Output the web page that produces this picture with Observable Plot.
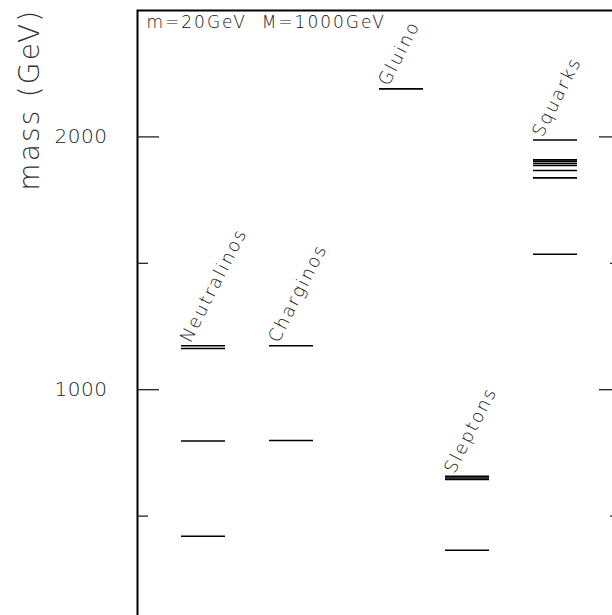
<!DOCTYPE html>
<html>
<head>
<meta charset="utf-8">
<script src="https://cdn.jsdelivr.net/npm/d3@7"></script>
<script src="https://cdn.jsdelivr.net/npm/@observablehq/plot@0.6"></script>
<style>
  html, body { margin: 0; padding: 0; overflow: hidden; background: white; }
  svg.plot, svg { max-width: none !important; }
</style>
</head>
<body>
<div id="chart"></div>
<script>
// ---- data (GeV) ----
const categories = ["Neutralinos", "Charginos", "Gluino", "Sleptons", "Squarks"];
const neutralinos = [420, 797, 1163, 1174];
const charginos = [799, 1174];
const gluino = [2190];
const sleptons = [365, 645, 651, 657];
const squarks = [1536, 1838, 1867, 1887, 1895, 1903, 1909, 1988];
const majorTicks = [1000, 2000];
const minorTicks = [500, 1500];
const yLabel = "mass (GeV)";
const note = "m=20GeV  M=1000GeV";

// ---- layout: column start on the x axis (0..11) ----
const columnStart = {Neutralinos: 1, Charginos: 3, Gluino: 5.5, Sleptons: 7, Squarks: 9};
const columnWidth = 1;

const series = [neutralinos, charginos, gluino, sleptons, squarks];
const levels = categories.flatMap((c, i) => series[i].map(m => ({cat: c, mass: m})));
const labels = categories.map((c, i) => ({cat: c, top: d3.max(series[i])}));

const W = 660, H = 660;
const plot = Plot.plot({
  width: W,
  height: H,
  marginLeft: 137,
  marginRight: 39,
  marginTop: 10,
  marginBottom: 18,
  x: {domain: [0, 11], axis: null},
  y: {domain: [0, 2500], axis: null},
  style: {fontFamily: "'DejaVu Sans', sans-serif", fontWeight: 300, color: "#111", background: "white", maxWidth: "none"},
  marks: [
    Plot.frame({stroke: "black", strokeWidth: 2}),
    // ticks (inward, both sides)
    Plot.ruleY(majorTicks, {y: d => d, x1: 0, x2: 0.5, stroke: "#222", strokeWidth: 1.3}),
    Plot.ruleY(majorTicks, {y: d => d, x1: 10.5, x2: 11, stroke: "#222", strokeWidth: 1.3}),
    Plot.ruleY(minorTicks, {y: d => d, x1: 0, x2: 0.25, stroke: "#222", strokeWidth: 1.3}),
    Plot.ruleY(minorTicks, {y: d => d, x1: 10.75, x2: 11, stroke: "#222", strokeWidth: 1.3}),
    // mass levels
    Plot.ruleY(levels, {
      y: "mass",
      x1: d => columnStart[d.cat],
      x2: d => columnStart[d.cat] + columnWidth,
      stroke: "black",
      strokeWidth: 1.6
    }),
    // tick labels
    Plot.text(majorTicks, {x: 0, y: d => d, text: d => String(d), textAnchor: "end", lineAnchor: "middle", dx: -30, fontSize: 20, fill: "#222"}),
    // y label
    Plot.text([yLabel], {frameAnchor: "top-left", text: d => d, dx: -107, dy: -2, rotate: -90, textAnchor: "end", lineAnchor: "middle", fontSize: 28, fill: "#333"}),
    // note
    Plot.text([note], {frameAnchor: "top-left", text: d => d, dx: 9, dy: 17, textAnchor: "start", lineAnchor: "bottom", fontSize: 17, fill: "#111"}),
    // category labels
    Plot.text(labels, {
      x: d => columnStart[d.cat],
      y: "top",
      text: "cat",
      rotate: -63,
      textAnchor: "start",
      lineAnchor: "bottom",
      dx: 9,
      dy: -2,
      fontSize: 18,
      fill: "#111"
    })
  ]
});

// letter spacing per text mark (wide plotter font look)
const textGroups = plot.querySelectorAll('g[aria-label="text"]');
const spacing = ["0.5px", "2.2px", "2px", "2px"];
textGroups.forEach((g, i) => g.setAttribute("letter-spacing", spacing[i] || "0px"));

document.getElementById("chart").appendChild(plot);
</script>
</body>
</html>
